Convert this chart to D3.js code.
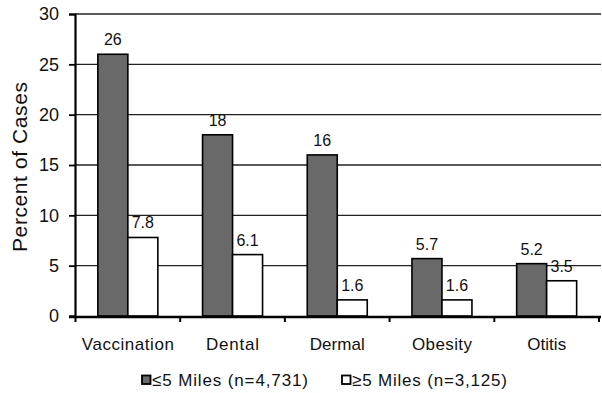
<!DOCTYPE html>
<html><head><meta charset="utf-8">
<script src="https://cdn.jsdelivr.net/npm/d3@7"></script>
<style>body{margin:0;background:#fff}svg{display:block}text{font-family:"Liberation Sans",Arial,sans-serif;fill:#111}
.nar{font-family:"Liberation Sans Narrow","Arial Narrow","Liberation Sans",sans-serif}</style>
</head><body><svg id="c" width="602" height="393"></svg>
<script>
const categories = ["Vaccination","Dental","Dermal","Obesity","Otitis"];
const seriesNames = ["\u22645 Miles (n=4,731)","\u22655 Miles (n=3,125)"];
const near = [26,18,16,5.7,5.2];
const far = [7.8,6.1,1.6,1.6,3.5];
const nearLabels = ["26","18","16","5.7","5.2"];
const farLabels = ["7.8","6.1","1.6","1.6","3.5"];
const yTicks = [0,5,10,15,20,25,30];

const svg = d3.select("#c");
const L=75, R=601, T=14, B=316;
const x = d3.scaleBand().domain(categories).range([L+0.5,599]).paddingInner(0).paddingOuter(0);
const xs = d3.scaleBand().domain([0,1]).range([0,60]);
const y = d3.scaleLinear().domain([0,30]).range([B,T]);
const colors = ["#696969","#ffffff"];
const catWidths = [92,53,55,60,39];

// gridlines
svg.append("g").selectAll("line").data(yTicks.filter(d=>d>0)).join("line")
  .attr("x1",L).attr("x2",R).attr("y1",d=>y(d)).attr("y2",d=>y(d))
  .attr("stroke","#222").attr("stroke-width",1.4);

// bars
const data = categories.map((c,i)=>({c, vals:[near[i],far[i]], labs:[nearLabels[i],farLabels[i]]}));
const g = svg.append("g");
data.forEach(d=>{
  const x0 = x(d.c) + (x.bandwidth()-60)/2;
  d.vals.forEach((v,j)=>{
    g.append("rect").attr("x",x0+xs(j)).attr("y",y(v)).attr("width",xs.bandwidth()).attr("height",y(0)-y(v))
     .attr("fill",colors[j]).attr("stroke","#000").attr("stroke-width",1.6);
    g.append("text").attr("x",x0+xs(j)+xs.bandwidth()/2).attr("y",y(v)-9)
     .attr("text-anchor","middle").attr("font-size",16).text(d.labs[j]);
  });
});

// y axis
const ya = svg.append("g").attr("transform",`translate(${L},0)`)
  .call(d3.axisLeft(y).tickValues(yTicks).tickSize(6).tickPadding(10));
ya.select(".domain").attr("stroke","#000").attr("stroke-width",2.2);
ya.selectAll(".tick line").attr("stroke","#000").attr("stroke-width",1.8);
ya.selectAll(".tick text").attr("font-size",18).attr("font-family","Liberation Sans, Arial, sans-serif").attr("fill","#111");

// x axis
svg.append("line").attr("x1",L-6).attr("x2",R).attr("y1",B+1).attr("y2",B+1).attr("stroke","#000").attr("stroke-width",2.4);
const bounds = categories.map(c=>x(c)).concat([x(categories[4])+x.bandwidth()]);
svg.append("g").selectAll("line").data(bounds).join("line")
  .attr("x1",d=>d).attr("x2",d=>d).attr("y1",B).attr("y2",B+6).attr("stroke","#000").attr("stroke-width",2);
svg.append("g").selectAll("text").data(categories).join("text").attr("class","nar")
  .attr("x",(d,i)=>x(d)+x.bandwidth()/2 - catWidths[i]/2).attr("y",350)
  .attr("font-size",17).attr("textLength",(d,i)=>catWidths[i]).attr("lengthAdjust","spacing").text(d=>d);

// y title
svg.append("text").attr("class","nar").attr("transform","translate(27,167) rotate(-90)").attr("x",-85)
  .attr("font-size",21).attr("textLength",170).attr("lengthAdjust","spacing").text("Percent of Cases");

// legend
const lx=[142,342], lw=[156,155];
seriesNames.forEach((s,i)=>{
  svg.append("rect").attr("x",lx[i]).attr("y",375.5).attr("width",8.5).attr("height",8.5)
    .attr("fill",colors[i]).attr("stroke","#000").attr("stroke-width",1.8);
  svg.append("text").attr("class","nar").attr("x",lx[i]+10).attr("y",386).attr("font-size",17)
    .attr("textLength",lw[i]).attr("lengthAdjust","spacing").text(s);
});
</script></body></html>
